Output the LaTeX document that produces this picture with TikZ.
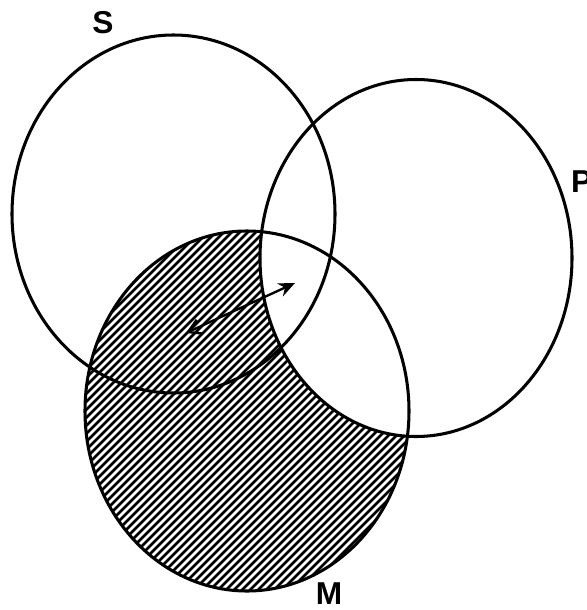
\documentclass[tikz,border=0pt]{standalone}
\usepackage{fontspec}
\setsansfont{Liberation Sans}
\usetikzlibrary{arrows.meta}
\begin{document}
\begin{tikzpicture}[x=0.03cm,y=-0.03cm,
  outline/.style={line width=2.6pt},
  hatch/.style={line width=2.2pt},
  lbl/.style={font=\sffamily\bfseries\fontsize{27}{27}\selectfont, inner sep=0pt}]
\useasboundingbox (0,0) rectangle (587,610);
\coordinate (cS) at (173.5,214);
\coordinate (cP) at (416,258);
\coordinate (cM) at (247,411);
% hatched region: M outside P
\begin{scope}
  \clip (cM) ellipse [x radius=162, y radius=180];
  \foreach \k in {-700,-692,...,700} \draw[hatch] (\k,620) -- (\k+620,0);
  \fill[white] (cP) ellipse [x radius=156, y radius=178.5];
\end{scope}
% outlines
\draw[outline] (cS) ellipse [x radius=161.5, y radius=179];
\draw[outline] (cP) ellipse [x radius=156, y radius=178.5];
\draw[outline] (cM) ellipse [x radius=162, y radius=180];
% arrow
\coordinate (a1) at (186,333);
\coordinate (a2) at (295,283);
\draw[line width=2pt, {Straight Barb[length=11pt,width=13pt,line width=2pt]}-{Stealth[length=14pt,width=12pt]}] (a1) -- (a2);
% labels
\node[lbl] (lS) at (103,23) {S};
\node[lbl, anchor=west] (lP) at (571,182) {P};
\node[lbl] (lM) at (329,594) {M};
\end{tikzpicture}
\end{document}
